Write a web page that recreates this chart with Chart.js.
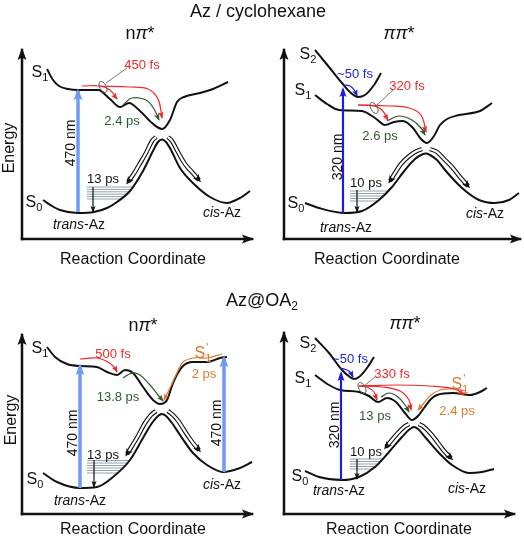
<!DOCTYPE html>
<html>
<head>
<meta charset="utf-8">
<script src="https://cdn.jsdelivr.net/npm/chart.js@4.4.1/dist/chart.umd.min.js"></script>
<style>
body { margin: 0; background: #fff; }
#wrap { position: relative; width: 524px; height: 538px; font-family: "Liberation Sans", Arial, sans-serif; color: #111; }
canvas { position: absolute; }
.title { position: absolute; font-size: 18px; transform: translate(-50%, -50%); white-space: nowrap; }
.title sub { font-size: 12px; vertical-align: -4px; line-height: 0; }
</style>
</head>
<body>
<div id="wrap">
  <canvas id="pA" width="262" height="268" style="left:0;top:0;width:262px;height:268px"></canvas>
  <canvas id="pB" width="262" height="268" style="left:262px;top:0;width:262px;height:268px"></canvas>
  <canvas id="pC" width="262" height="270" style="left:0;top:268px;width:262px;height:270px"></canvas>
  <canvas id="pD" width="262" height="270" style="left:262px;top:268px;width:262px;height:270px"></canvas>
  <div class="title" style="left:258px;top:11px">Az / cyclohexane</div>
  <div class="title" style="left:262px;top:300px">Az@OA<sub>2</sub></div>
</div>
<script>
// schematic units: x = reaction coordinate, y = energy (axis origin at 0,0)

// --- Az / cyclohexane, n-pi* ---
const A_S1 = [[25,170],[31,159],[37,153],[46,150],[56,149],[76,149],[88,140],[98,132],[107,136],[118,128],[130,116],[140,110],[148,119],[155,137],[162,142],[178,146],[191,150],[206,157]];
const A_S0 = [[21,39],[30,33],[38,29],[56,26],[72,27],[85,31],[95,37],[108,48],[121,68],[131,88],[136,97],[140,99.5],[144,97],[149,89],[158,71],[173,54],[188,42],[205,36],[218,41],[228,48]];
const A_pump = [[56, 27, 148]];
const A_levels = [40, 42.4, 44.8, 47.2, 49.6, 52];
const A_relax = [71, 52, 27];
const A_red1 = [[60,153],[78,153],[88,149],[95,140]];
const A_red2 = [[78,153],[108,152],[126,150],[136,140],[140,121]];
const A_green = [[101,134],[110,141],[124,139],[132,130],[137,119]];
const A_dblL = [[134,102],[130,98],[124,86],[117,74],[111,64],[106,57]];
const A_dblR = [[146,102],[150,98],[156,87],[163,75],[170,67],[177,59]];
const A_ring = [[81,152]];
const A_leader = [[84,156],[105,171]];

// --- Az / cyclohexane, pi-pi* ---
const B_S2 = [[31,189],[45,172],[58,156],[67,146],[74,142],[81,144],[90,154],[97,166]];
const B_S1 = [[31,144],[43,135],[55,129],[78,128],[91,121],[101,114],[110,117],[119,118],[129,111],[137,100],[143,96],[150,103],[156,114],[163,120],[175,124],[196,128],[208,136]];
const B_S0 = [[21,36],[35,31],[61,26],[78,28],[95,39],[108,52],[121,69],[131,80],[138,84.5],[142,85.5],[146,84],[153,79],[161,69],[178,51],[195,39],[211,36],[225,39],[235,46]];
const B_pump = [[59, 26, 150]];
const B_levels = [38, 40.5, 43, 45.5, 48];
const B_relax = [73, 49, 27];
const B_blue = [[59,154],[66,153],[71,148],[73,143]];
const B_red1 = [[74,134],[90,133],[98,129],[104,119]];
const B_red2 = [[74,134],[105,133],[125,131],[137,124],[142,107]];
const B_green = [[103,118],[115,123],[128,119],[137,111],[141,104]];
const B_dblL = [[138,90],[131,87],[124,82],[117,75],[111,66],[106,58]];
const B_dblR = [[146,90],[153,87],[160,80],[168,72],[176,62],[184,53]];
const B_ring = [[90,131]];
const B_leader = [[93,134],[109,149]];

// --- Az@OA2, n-pi* ---
const C_S1 = [[25,167],[33,157],[45,150],[58,148],[75,147],[85,142],[95,139],[103,144],[111,141],[121,127],[131,114],[138,110],[145,114],[151,131],[160,147],[171,152],[185,152],[198,156],[205,157]];
const C_S0 = [[21,41],[35,32],[58,26],[75,27],[91,37],[108,54],[121,76],[130,91],[136,98],[140,100],[144,98],[150,91],[158,79],[171,61],[185,49],[201,42],[218,46],[230,52]];
const C_pump = [[58, 26, 148], [202, 42, 156]];
const C_levels = [41, 43.5, 46, 48.5, 51, 53.5];
const C_relax = [72, 54, 27];
const C_red = [[58,155],[75,156],[86,152],[93,146],[95,142]];
const C_green = [[101,136],[110,141],[118,139],[128,129],[136,119],[141,113]];
const C_orange = [[200,160],[185,156],[171,156],[161,152],[155,141],[148,126],[142,114]];
const C_dblL = [[134,103],[129,99],[123,91],[116,78],[110,68],[105,60]];
const C_dblR = [[146,103],[151,99],[157,92],[164,81],[171,71],[177,64]];

// --- Az@OA2, pi-pi* ---
const D_S2 = [[31,176],[45,161],[58,144],[66,137],[70,135],[75,137],[83,146],[90,157]];
const D_S1 = [[31,139],[45,129],[56,124],[75,122],[85,118],[94,112],[103,116],[112,112],[121,101],[128,94],[134,98],[140,106],[147,115],[153,119],[169,121],[186,119],[196,122],[203,126]];
const D_S0 = [[21,43],[35,37],[58,34],[75,37],[91,47],[105,62],[118,77],[126,85],[130,87],[134,85],[141,77],[155,61],[168,49],[185,41],[198,42],[210,45]];
const D_pump = [[57, 34, 141]];
const D_levels = [45, 47.5, 50, 52.5, 55];
const D_relax = [73, 55, 35];
const D_blue = [[56,146],[63,144],[67,141],[69,137]];
const D_red1 = [[75,128],[83,127],[90,122],[93,114]];
const D_red2 = [[75,128],[98,127],[116,123],[125,114],[127,104]];
const D_red3 = [[75,128],[111,129],[145,128],[171,125],[180,119]];
const D_green = [[97,117],[105,121],[114,117],[121,109],[125,102]];
const D_orange = [[182,123],[168,125],[156,124],[147,119],[140,111],[134,104]];
const D_dblL = [[125,90],[120,87],[113,80],[107,73],[102,67]];
const D_dblR = [[135,90],[140,87],[147,80],[154,71],[161,62],[167,56]];
const D_ring = [[78,126]];
const D_leader = [[80,128],[91,137]];

const INK = '#111111';
const RED = '#f0282a';
const GREEN = '#2e5a2e';
const BLUE = '#1e1ed6';
const LIGHTBLUE = '#6c9cf2';
const ORANGE = '#e07a2a';
const HATCH = '#8fa2ad';
const FONT = '"Liberation Sans", Arial, sans-serif';

const S = n => [['S', ''], [n, 'sub']];
const S1P = [['S', ''], ['1', 'sub'], ["'", 'sup']];
const TRANS = [['trans', 'i'], ['-Az', '']];
const CIS = [['cis', 'i'], ['-Az', '']];
const NPI = [['n', ''], ['π', 'i'], ['*', '']];
const PIPI = [['ππ', 'i'], ['*', '']];

const A_text = [
  [S('1'), 18, 168, INK, 16], [S('0'), 12, 38, INK, 16],
  [TRANS, 57, 15, INK, 14], [CIS, 200, 27, INK, 14],
  ['470 nm', 48, 96, INK, 14, -90], ['13 ps', 81, 61, INK, 13],
  ['450 fs', 120, 175, RED, 13], ['2.4 ps', 100, 119, GREEN, 13],
  [NPI, 118, 206, INK, 18], ['Energy', -14, 91, INK, 16, -90],
  ['Reaction Coordinate', 111, -19, INK, 16]
];
const B_text = [
  [S('2'), 24, 186, INK, 16], [S('1'), 19, 150, INK, 16], [S('0'), 12, 37, INK, 16],
  [TRANS, 62, 12, INK, 14], [CIS, 201, 26, INK, 14],
  ['320 nm', 53, 82, INK, 14, -90], ['10 ps', 82, 57, INK, 13],
  ['~50 fs', 71, 166, BLUE, 13], ['320 fs', 123, 154, RED, 13], ['2.6 ps', 96, 104, GREEN, 13],
  [PIPI, 115, 206, INK, 18], ['Reaction Coordinate', 103, -19, INK, 16]
];
const C_text = [
  [S('1'), 18, 167, INK, 16], [S('0'), 13, 36, INK, 16],
  [TRANS, 58, 14, INK, 14], [CIS, 200, 30, INK, 14],
  ['470 nm', 50, 81, INK, 14, -90], ['470 nm', 194, 91, INK, 14, -90], ['13 ps', 81, 60, INK, 13],
  ['500 fs', 91, 161, RED, 13], ['13.8 ps', 96, 118, GREEN, 13],
  [S1P, 181, 162, ORANGE, 16], ['2 ps', 182, 141, ORANGE, 13],
  [NPI, 121, 189, INK, 18], ['Energy', -12, 94, INK, 16, -90],
  ['Reaction Coordinate', 111, -14, INK, 16]
];
const D_text = [
  [S('2'), 24, 172, INK, 16], [S('1'), 19, 137, INK, 16], [S('0'), 16, 39, INK, 16],
  [TRANS, 55, 24, INK, 14], [CIS, 183, 26, INK, 14],
  ['320 nm', 50, 89, INK, 14, -90], ['10 ps', 82, 63, INK, 13],
  ['~50 fs', 66, 156, BLUE, 13], ['330 fs', 108, 141, RED, 13], ['13 ps', 91, 99, GREEN, 13],
  [S1P, 176, 131, ORANGE, 16], ['2.4 ps', 173, 104, ORANGE, 13],
  [PIPI, 121, 191, INK, 18], ['Reaction Coordinate', 115, -14, INK, 16]
];

function rich(ctx, parts, x, y, size, color, rot) {
  if (typeof parts === 'string') parts = [[parts, '']];
  const small = Math.round(size * 0.68);
  const fnt = k => (k === 'i' ? 'italic ' : '') + (k === 'sub' || k === 'sup' ? small : size) + 'px ' + FONT;
  const pos = [];
  let w = 0, prevStart = 0;
  parts.forEach(([t, k], j) => {
    ctx.font = fnt(k);
    const tw = ctx.measureText(t).width;
    if (k === 'sup' && j > 0 && parts[j - 1][1] === 'sub') {
      pos.push(prevStart + 1); w = Math.max(w, prevStart + tw + 1);
    } else { pos.push(w); prevStart = w; w += tw; }
  });
  ctx.save();
  ctx.translate(x, y);
  ctx.rotate((rot || 0) * Math.PI / 180);
  ctx.fillStyle = color;
  ctx.textBaseline = 'alphabetic';
  parts.forEach(([t, k], j) => {
    ctx.font = fnt(k);
    const dy = k === 'sub' ? size * 0.28 : k === 'sup' ? -size * 0.42 : 0;
    ctx.fillText(t, pos[j] - w / 2, size * 0.36 + dy);
  });
  ctx.restore();
}

function drawHead(ctx, x, y, ang, len, wid, color) {
  ctx.save();
  ctx.translate(x, y);
  ctx.rotate(ang);
  ctx.beginPath();
  ctx.moveTo(0, 0);
  ctx.lineTo(-len, wid / 2);
  ctx.lineTo(-len * 0.8, 0);
  ctx.lineTo(-len, -wid / 2);
  ctx.closePath();
  ctx.fillStyle = color;
  ctx.fill();
  ctx.restore();
}

function marks(labels, rings) {
  return {
    id: 'marks',
    afterDatasetsDraw(chart) {
      const ctx = chart.ctx;
      chart.data.datasets.forEach((d, i) => {
        if (!d.head) return;
        const pts = chart.getDatasetMeta(i).data;
        const e = pts[pts.length - 1], p = pts[pts.length - 2];
        const ang = Math.atan2(e.y - p.y, e.x - p.x);
        const ext = d.borderWidth * d.head[0] / d.head[1];
        drawHead(ctx, e.x + Math.cos(ang) * ext * 0.6, e.y + Math.sin(ang) * ext * 0.6, ang, d.head[0], d.head[1], d.headColor || d.borderColor);
      });
    },
    afterDraw(chart) {
      const ctx = chart.ctx, sx = chart.scales.x, sy = chart.scales.y;
      (rings || []).forEach(([x, y]) => {
        ctx.save();
        ctx.beginPath();
        ctx.ellipse(sx.getPixelForValue(x), sy.getPixelForValue(y), 3.2, 6, -0.5, 0, Math.PI * 2);
        ctx.strokeStyle = '#555';
        ctx.lineWidth = 1;
        ctx.stroke();
        ctx.restore();
      });
      labels.forEach(([parts, x, y, color, size, rot]) => {
        rich(ctx, parts, sx.getPixelForValue(x), sy.getPixelForValue(y), size, color, rot);
      });
    }
  };
}

// x where a rising well wall reaches energy y, right of fromX
function wallX(curve, y, fromX) {
  for (let i = 0; i < curve.length - 1; i++) {
    const a = curve[i], b = curve[i + 1];
    if (b[0] <= fromX || b[1] <= a[1]) continue;
    if (y >= a[1] && y <= b[1]) return a[0] + (y - a[1]) / (b[1] - a[1]) * (b[0] - a[0]);
  }
  return fromX;
}

function panel(id, yMin, yMax, P) {
  const ds = [];
  const add = (pts, color, width, extra) => ds.push(Object.assign({
    data: pts.map(([x, y]) => ({ x, y })),
    borderColor: color, borderWidth: width, pointRadius: 0, showLine: true,
    fill: false, clip: false, tension: 0.4, order: 5, borderCapStyle: 'butt'
  }, extra || {}));

  // axes
  add([[0, 0], [0, P.top]], INK, 2.5, { tension: 0, head: [12, 9], borderCapStyle: 'square' });
  add([[0, 0], [P.right, 0]], INK, 2.5, { tension: 0, head: [12, 9], borderCapStyle: 'square' });

  // potential curves
  P.curves.forEach(c => add(c, INK, 2, { cubicInterpolationMode: 'monotone', order: 7 }));

  // vibrational levels in the trans well
  P.levels.forEach(l => add([[P.hatchX, l], [wallX(P.S0, l, P.hatchX), l]], HATCH, 1, { tension: 0, order: 8 }));
  add([[P.relax[0], P.relax[1]], [P.relax[0], P.relax[2]]], INK, 1.2, { tension: 0, head: [7, 5] });

  // excitation
  P.pumps.forEach(([x, y0, y1]) => add([[x, y0], [x, y1]], P.pumpColor, P.pumpWidth, { tension: 0, head: P.pumpHead }));

  // relaxation pathways
  P.paths.forEach(([pts, color]) => add(pts, color, 1.2, { head: [7, 5.5] }));

  // hollow arrows over the S0 barrier
  P.dbl.forEach(pts => {
    add(pts, INK, 4.4, { order: 10, head: [8, 7] });
    add(pts, '#ffffff', 2.2, { order: 9 });
  });

  (P.leader ? [P.leader] : []).forEach(pts => add(pts, '#555', 0.8, { tension: 0 }));

  new Chart(document.getElementById(id), {
    type: 'scatter',
    data: { datasets: ds },
    options: {
      responsive: false, animation: false, devicePixelRatio: 1, events: [],
      layout: { padding: 0 },
      scales: {
        x: { type: 'linear', display: false, min: -22, max: 240 },
        y: { type: 'linear', display: false, min: yMin, max: yMax }
      },
      plugins: { legend: { display: false }, tooltip: { enabled: false } }
    },
    plugins: [marks(P.text, P.rings)]
  });
}

panel('pA', -29, 239, {
  top: 189, right: 230, curves: [A_S1, A_S0], S0: A_S0,
  levels: A_levels, hatchX: 65, relax: A_relax,
  pumps: A_pump, pumpColor: LIGHTBLUE, pumpWidth: 3.5, pumpHead: [12, 9],
  paths: [[A_red1, RED], [A_red2, RED], [A_green, GREEN]],
  dbl: [A_dblL, A_dblR], rings: A_ring, leader: A_leader, text: A_text
});
panel('pB', -29, 239, {
  top: 189, right: 236, curves: [B_S2, B_S1, B_S0], S0: B_S0,
  levels: B_levels, hatchX: 66, relax: B_relax,
  pumps: B_pump, pumpColor: BLUE, pumpWidth: 2.2, pumpHead: [10, 7],
  paths: [[B_blue, BLUE], [B_red1, RED], [B_red2, RED], [B_green, GREEN]],
  dbl: [B_dblL, B_dblR], rings: B_ring, leader: B_leader, text: B_text
});
panel('pC', -24, 246, {
  top: 179, right: 230, curves: [C_S1, C_S0], S0: C_S0,
  levels: C_levels, hatchX: 65, relax: C_relax,
  pumps: C_pump, pumpColor: LIGHTBLUE, pumpWidth: 3.5, pumpHead: [12, 9],
  paths: [[C_red, RED], [C_green, GREEN], [C_orange, ORANGE]],
  dbl: [C_dblL, C_dblR], rings: [], text: C_text
});
panel('pD', -24, 246, {
  top: 181, right: 230, curves: [D_S2, D_S1, D_S0], S0: D_S0,
  levels: D_levels, hatchX: 66, relax: D_relax,
  pumps: D_pump, pumpColor: BLUE, pumpWidth: 2.2, pumpHead: [10, 7],
  paths: [[D_blue, BLUE], [D_red1, RED], [D_red2, RED], [D_red3, RED], [D_green, GREEN], [D_orange, ORANGE]],
  dbl: [D_dblL, D_dblR], rings: D_ring, leader: D_leader, text: D_text
});
</script>
</body>
</html>
